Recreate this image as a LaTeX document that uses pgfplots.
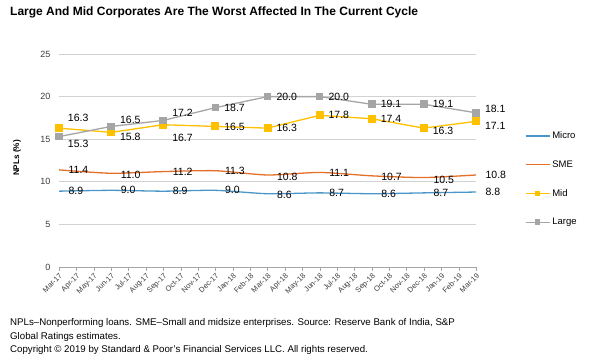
\documentclass[border=0pt]{standalone}
\usepackage{pgfplots}
\pgfplotsset{compat=1.18}
\usepackage{pgfplotstable}
\usepackage{fontspec}
\setmainfont{Liberation Sans}
\definecolor{cMicro}{RGB}{74,150,200}
\definecolor{cSME}{RGB}{228,112,40}
\definecolor{cMid}{RGB}{255,192,0}
\definecolor{cLarge}{RGB}{165,165,165}
\definecolor{cTick}{RGB}{60,60,60}

\pgfplotstableread{
x y dy
0 8.9 0
3 9.0 0
6 8.9 0
9 9.0 0
12 8.6 -1
15 8.7 0
18 8.6 0
21 8.7 0
24 8.8 0
}\micro
\pgfplotstableread{
x y dy
0 11.4 0
3 11.0 -2
6 11.2 0
9 11.3 0
12 10.8 -2
15 11.1 0
18 10.7 -1
21 10.5 -2
24 10.8 0
}\sme
\pgfplotstableread{
x y dy
0 16.3 10
3 15.8 -4
6 16.7 -13
9 16.5 0
12 16.3 0
15 17.8 0
18 17.4 0
21 16.3 -3
24 17.1 -5
}\mid
\pgfplotstableread{
x y dy
0 15.3 -7
3 16.5 7
6 17.2 8
9 18.7 0
12 20.0 0
15 20.0 0
18 19.1 0
21 19.1 0
24 18.1 4
}\large

\begin{document}
\begin{tikzpicture}
\path[use as bounding box] (0,0) rectangle (600pt,360pt);
\begin{axis}[
  at={(59pt,93pt)}, anchor=south west,
  scale only axis, width=417pt, height=213pt,
  xmin=0, xmax=24, ymin=0, ymax=25,
  ytick={0,5,...,25},
  xtick={0,...,24},
  xticklabels={Mar-17,Apr-17,May-17,Jun-17,Jul-17,Aug-17,Sep-17,Oct-17,Nov-17,Dec-17,Jan-18,Feb-18,Mar-18,Apr-18,May-18,Jun-18,Jul-18,Aug-18,Sep-18,Oct-18,Nov-18,Dec-18,Jan-19,Feb-19,Mar-19},
  axis x line*=bottom, axis y line*=left,
  axis line style={-},
  x axis line style={draw=gray!70},
  y axis line style={draw=none},
  ymajorgrids, grid style={draw=gray!35, line width=0.8pt},
  xtick style={draw=gray!70}, ytick style={draw=none},
  tick align=outside, major tick length=4pt,
  tick label style={text=cTick},
  /pgf/number format/assume math mode=true,
  x tick label style={rotate=45, anchor=north east, inner sep=1pt, font=\fontsize{7.5}{9}\selectfont},
  y tick label style={font=\fontsize{9}{10}\selectfont, xshift=-1pt},
  legend style={at={(1.117,0.645)}, anchor=north west, draw=none, fill=none,
     font=\fontsize{9.5}{11}\selectfont, row sep=16.5pt, inner sep=0pt,
     cells={anchor=west}},
  legend image code/.code={\draw[mark repeat=2, mark phase=2, #1, mark size=2.3pt] plot coordinates {(0pt,0pt) (12pt,0pt) (24pt,0pt)};},
  nodes near coords={\pgfmathprintnumber[fixed,fixed zerofill,precision=1]{\pgfplotspointmeta}},
  point meta=y,
  visualization depends on={\thisrow{dy} \as \dy},
  every node near coord/.style={anchor=west, xshift=9pt, yshift=\dy pt, font=\fontsize{10.5}{12}\selectfont, text=black, inner sep=0pt},
]
\addplot[color=cMicro, line width=1.3pt, smooth, tension=0.4, mark=none] table[x=x,y=y] {\micro};
\addlegendentry{Micro}
\addplot[color=cSME, line width=1.3pt, smooth, tension=0.4, mark=none] table[x=x,y=y] {\sme};
\addlegendentry{SME}
\addplot[color=cMid, line width=1.3pt, mark=square*, mark size=3.5pt, mark options={fill=cMid, draw=cMid, line width=0pt}] table[x=x,y=y] {\mid};
\addlegendentry{Mid}
\addplot[color=cLarge, line width=1.3pt, mark=square*, mark size=3.3pt, mark options={fill=cLarge, draw=cLarge, line width=0pt}] table[x=x,y=y] {\large};
\addlegendentry{Large}
\end{axis}
\node[rotate=90, font=\bfseries\fontsize{8.2}{10}\selectfont] at (17pt,202pt) {NPLs (\%)};
\node[anchor=west, inner sep=0pt, font=\bfseries\fontsize{12}{14}\selectfont] at (10pt,348pt) {Large And Mid Corporates Are The Worst Affected In The Current Cycle};
\node[anchor=west, inner sep=0pt, font=\fontsize{9.7}{11}\selectfont] at (10pt,37pt) {NPLs--Nonperforming loans. SME--Small and midsize enterprises. Source: Reserve Bank of India, S\&P};
\node[anchor=west, inner sep=0pt, font=\fontsize{9.7}{11}\selectfont] at (10pt,23.5pt) {Global Ratings estimates.};
\node[anchor=west, inner sep=0pt, font=\fontsize{9.7}{11}\selectfont] at (10pt,10.5pt) {Copyright © 2019 by Standard \& Poor's Financial Services LLC. All rights reserved.};
\end{tikzpicture}
\end{document}
